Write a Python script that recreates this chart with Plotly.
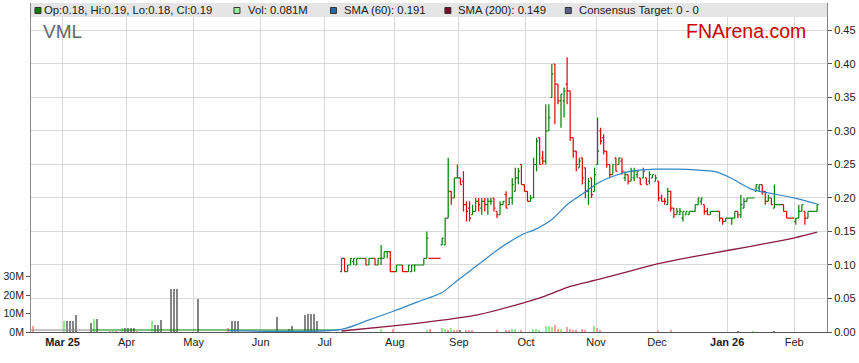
import pandas as pd
import plotly.graph_objects as go

# ---------------- data ----------------
price_start = "2025-07-08"   # first daily bar; bars run on consecutive weekdays
open_ = [
    .090,.110,.090,.100,.105,.100,.110,.110,.110,.100,
    .110,.110,.100,.110,.110,.120,.120,.090,.090,.100,
    .100,.090,.090,.090,.100,.100,.100,.100,.110,.110,
    .110,.110,.110,.130,.130,.170,.210,.200,.230,.230,
    .225,.190,.185,.175,.180,.195,.185,.195,.190,.195,
    .200,.180,.175,.190,.205,.190,.200,.210,.230,.250,
    .220,.210,.195,.200,.250,.290,.260,.255,.300,.350,
    .400,.370,.345,.345,.370,.360,.290,.270,.245,.260,
    .245,.210,.230,.210,.250,.300,.290,.270,.250,.235,
    .260,.250,.255,.230,.235,.225,.230,.235,.230,.230,
    .230,.225,.230,.225,.225,.200,.195,.190,.210,.185,
    .175,.175,.170,.175,.175,.180,.180,.190,.195,.190,
    .180,.175,.180,.180,.180,.170,.165,.170,.170,.170,
    .180,.175,.185,.195,.200,.200,.210,.215,.220,.210,
    .195,.200,.185,.190,.190,.190,.180,.170,.170,.165,
    .170,.180,.180,.170,.180,.180,.180]
high_ = [
    .110,.110,.100,.110,.110,.110,.110,.110,.110,.110,
    .110,.110,.110,.130,.120,.120,.120,.090,.100,.100,
    .100,.090,.100,.100,.100,.100,.100,.110,.150,.110,
    .110,.110,.110,.140,.170,.260,.210,.230,.250,.230,
    .240,.195,.195,.190,.200,.200,.200,.200,.200,.200,
    .200,.180,.195,.195,.210,.200,.230,.245,.245,.250,
    .220,.210,.205,.260,.290,.290,.270,.340,.340,.400,
    .400,.370,.355,.365,.410,.360,.290,.270,.260,.260,
    .245,.230,.230,.245,.320,.305,.295,.270,.250,.250,
    .260,.260,.260,.240,.235,.245,.245,.240,.230,.245,
    .230,.240,.235,.235,.225,.205,.200,.215,.210,.185,
    .185,.185,.180,.180,.180,.180,.190,.200,.200,.190,
    .185,.180,.180,.180,.180,.170,.170,.170,.170,.180,
    .180,.205,.200,.200,.200,.200,.220,.220,.220,.210,
    .205,.200,.220,.190,.190,.190,.180,.170,.170,.170,
    .190,.190,.180,.180,.180,.180,.190]
low_ = [
    .090,.090,.090,.100,.100,.100,.110,.110,.100,.100,
    .110,.100,.100,.100,.110,.110,.090,.090,.090,.100,
    .090,.090,.090,.090,.090,.100,.100,.100,.110,.110,
    .110,.110,.110,.130,.130,.170,.190,.200,.230,.220,
    .180,.165,.165,.175,.180,.180,.175,.180,.175,.190,
    .180,.170,.175,.190,.185,.190,.190,.210,.220,.220,
    .210,.195,.195,.200,.240,.250,.250,.250,.300,.350,
    .310,.340,.305,.320,.340,.285,.260,.240,.245,.220,
    .200,.190,.200,.210,.250,.280,.265,.245,.230,.235,
    .240,.250,.235,.225,.220,.225,.225,.230,.220,.230,
    .220,.220,.230,.225,.195,.195,.190,.190,.180,.170,
    .175,.175,.165,.175,.175,.180,.180,.190,.190,.175,
    .175,.175,.180,.180,.165,.160,.165,.170,.160,.170,
    .170,.170,.185,.195,.200,.200,.210,.210,.205,.190,
    .195,.190,.185,.190,.190,.180,.170,.170,.170,.160,
    .170,.180,.160,.170,.180,.180,.180]
close_ = [
    .110,.090,.100,.110,.110,.110,.110,.110,.100,.110,
    .110,.100,.110,.110,.120,.120,.090,.090,.100,.100,
    .090,.090,.100,.100,.100,.100,.100,.110,.140,.110,
    .110,.110,.110,.140,.170,.210,.200,.230,.230,.220,
    .190,.180,.170,.180,.195,.190,.195,.190,.195,.195,
    .185,.175,.190,.195,.185,.200,.220,.230,.240,.220,
    .210,.195,.200,.250,.285,.250,.255,.300,.320,.385,
    .370,.345,.355,.360,.360,.290,.270,.250,.255,.230,
    .210,.225,.205,.235,.270,.285,.270,.250,.235,.250,
    .240,.260,.240,.235,.225,.240,.240,.240,.220,.240,
    .220,.235,.235,.230,.200,.195,.195,.210,.185,.175,
    .180,.180,.180,.180,.180,.180,.190,.200,.200,.180,
    .175,.180,.180,.180,.170,.165,.170,.170,.170,.180,
    .175,.190,.195,.200,.200,.200,.220,.220,.210,.195,
    .200,.190,.190,.190,.190,.180,.170,.170,.170,.170,
    .180,.190,.170,.180,.180,.180,.190]

# near-zero trading before the July re-listing
early_dates = ["2025-02-14", "2025-03-14", "2025-07-07"]
early_price = [0.003, 0.003, 0.003]

sma60_dates = ["2025-05-16", "2025-07-08", "2025-07-21", "2025-07-31", "2025-08-12",
               "2025-08-22", "2025-08-29", "2025-09-09", "2025-09-17", "2025-09-24",
               "2025-09-30", "2025-10-03", "2025-10-13", "2025-10-20", "2025-10-27",
               "2025-11-03", "2025-11-11", "2025-11-18", "2025-11-28", "2025-12-09",
               "2025-12-17", "2025-12-26", "2026-01-02", "2026-01-12", "2026-01-16",
               "2026-01-22", "2026-02-02", "2026-02-11"]
sma60_vals = [0.002, 0.004, 0.018, 0.031, 0.045,
              0.059, 0.077, 0.101, 0.122, 0.137,
              0.147, 0.152, 0.168, 0.190, 0.206,
              0.222, 0.234, 0.240, 0.243, 0.243,
              0.242, 0.239, 0.229, 0.214, 0.209,
              0.206, 0.1995, 0.191]

sma200_dates = ["2025-07-08", "2025-07-31", "2025-08-22", "2025-09-09", "2025-09-30",
                "2025-10-09", "2025-10-21", "2025-11-03", "2025-11-17", "2025-12-01",
                "2025-12-16", "2026-01-01", "2026-01-16", "2026-02-02", "2026-02-11"]
sma200_vals = [0.0015, 0.009, 0.0176, 0.026, 0.044,
               0.054, 0.068, 0.078, 0.090, 0.102,
               0.112, 0.122, 0.131, 0.141, 0.149]

# volume in millions; kind: u = up day, d = down day, n = unchanged
vol_dates = ["2025-02-14", "2025-02-17", "2025-03-03", "2025-03-04", "2025-03-05", "2025-03-06",
             "2025-03-07", "2025-03-14", "2025-03-17", "2025-03-18", "2025-03-24", "2025-03-25",
             "2025-03-26", "2025-03-28", "2025-03-31", "2025-04-01", "2025-04-02", "2025-04-03",
             "2025-04-04", "2025-04-11", "2025-04-14", "2025-04-15", "2025-04-16", "2025-04-21",
             "2025-04-22", "2025-04-23", "2025-05-02", "2025-05-16", "2025-05-19", "2025-05-20",
             "2025-05-21", "2025-06-09", "2025-06-13", "2025-06-16", "2025-06-20", "2025-06-23",
             "2025-06-24", "2025-06-25", "2025-06-26",
             "2025-07-25", "2025-07-31", "2025-08-15", "2025-08-18", "2025-08-22", "2025-08-25",
             "2025-08-26", "2025-08-27", "2025-08-28", "2025-08-29", "2025-09-01", "2025-09-03",
             "2025-09-04", "2025-09-05", "2025-09-17", "2025-09-22", "2025-09-23", "2025-09-24",
             "2025-09-25", "2025-09-29", "2025-10-03", "2025-10-06", "2025-10-07", "2025-10-09",
             "2025-10-10", "2025-10-13", "2025-10-14", "2025-10-15", "2025-10-16", "2025-10-20",
             "2025-10-21", "2025-10-22", "2025-10-23", "2025-10-27", "2025-10-28", "2025-10-31",
             "2025-11-03", "2025-11-04", "2025-12-01", "2025-12-05", "2026-01-06", "2026-01-13",
             "2026-01-22"]
vol_m = [8.5, 3, 6, 6, 6, 6,
         9, 5, 7, 7, 0.4, 0.4,
         0.4, 2, 2, 2, 2, 2,
         0.5, 6, 4, 4, 6.5, 23,
         23, 23, 18, 2, 6, 6,
         6, 8, 1.5, 3, 9, 10,
         10, 10, 6,
         1.5, 1.5, 1.0, 1.7, 2.0, 1.5,
         1.0, 2.2, 1.0, 1.0, 0.7, 1.0,
         1.0, 0.8, 1.0, 1.0, 1.2, 1.5,
         1.5, 1.0, 1.5, 1.5, 1.0, 3.0,
         3.0, 2.5, 4.0, 1.5, 1.5, 2.5,
         1.5, 1.0, 1.0, 1.5, 1.0, 3.5,
         2.0, 1.0, 1.0, 1.0, 0.5, 0.5,
         0.5]
vol_kind = ["n", "d", "u", "n", "n", "n",
            "n", "n", "u", "n", "d", "u",
            "d", "u", "n", "n", "n", "n",
            "d", "u", "n", "n", "n", "n",
            "n", "n", "n", "d", "n", "n",
            "n", "n", "n", "n", "n", "n",
            "n", "n", "n",
            "u", "d", "u", "d", "u", "u",
            "d", "u", "d", "d", "n", "d",
            "d", "d", "d", "d", "d", "u",
            "u", "d", "u", "u", "u", "u",
            "u", "u", "d", "d", "u", "d",
            "d", "d", "d", "d", "d", "u",
            "d", "d", "d", "d", "n", "u",
            "n"]

month_ticks = ["2025-03-03", "2025-04-01", "2025-05-01", "2025-06-02", "2025-07-01", "2025-08-01",
               "2025-09-01", "2025-10-01", "2025-11-03", "2025-12-01", "2026-01-01", "2026-02-02"]
month_labels = ["<b>Mar 25</b>", "Apr", "May", "Jun", "Jul", "Aug",
                "Sep", "Oct", "Nov", "Dec", "<b>Jan 26</b>", "Feb"]
price_ticks = [0.00, 0.05, 0.10, 0.15, 0.20, 0.25, 0.30, 0.35, 0.40, 0.45]
vol_ticks_m = [0, 10, 20, 30]

# ---------------- figure ----------------
W, H = 859, 363
L, R, T, B = 31, 831, 3, 332
HALF_DAY = pd.Timedelta(hours=12)

price_x = pd.bdate_range(price_start, periods=len(close_)) + HALF_DAY
kind_color = {"u": "#90ee90", "d": "#ff9c9c", "n": "#858585"}

fig = go.Figure()

fig.add_trace(go.Bar(
    x=pd.to_datetime(vol_dates) + HALF_DAY, y=[v * 1e6 for v in vol_m],
    marker=dict(color=[kind_color[k] for k in vol_kind], line=dict(width=0)),
    width=0.48 * 86400000, yaxis="y", hoverinfo="skip", showlegend=False))

fig.add_trace(go.Scatter(
    x=pd.to_datetime(early_dates[:2]) + HALF_DAY, y=early_price[:2], mode="lines",
    line=dict(color="#888888", width=1.2), yaxis="y2", hoverinfo="skip", showlegend=False))
fig.add_trace(go.Scatter(
    x=pd.to_datetime(early_dates[1:]) + HALF_DAY, y=early_price[1:], mode="lines",
    line=dict(color="#008000", width=1.2), yaxis="y2", hoverinfo="skip", showlegend=False))

fig.add_trace(go.Scatter(
    x=pd.to_datetime(sma200_dates) + HALF_DAY, y=sma200_vals, mode="lines",
    line=dict(color="#8b1a3e", width=1.3, shape="spline", smoothing=0.6),
    yaxis="y2", hoverinfo="skip", showlegend=False))
fig.add_trace(go.Scatter(
    x=pd.to_datetime(sma60_dates) + HALF_DAY, y=sma60_vals, mode="lines",
    line=dict(color="#3286c4", width=1.2, shape="spline", smoothing=0.8),
    yaxis="y2", hoverinfo="skip", showlegend=False))

fig.add_trace(go.Ohlc(
    x=price_x, open=open_, high=high_, low=low_, close=close_,
    increasing=dict(line=dict(color="#008000", width=1.2)),
    decreasing=dict(line=dict(color="#e00000", width=1.2)),
    tickwidth=0.5, yaxis="y2", hoverinfo="skip", showlegend=False))


def px_x(p):
    return (p - L) / (R - L)


def px_y(p):
    return (B - p) / (B - T)


shapes = [dict(type="rect", xref="paper", yref="paper", x0=0, x1=1,
               y0=px_y(17), y1=1, fillcolor="#e5e5e5", line=dict(width=0), layer="above")]
legend_items = [
    (35, 42.5, "#0b7d0b", "Op:0.18, Hi:0.19, Lo:0.18, Cl:0.19"),
    (235, 246.7, "#98f098", "Vol: 0.081M"),
    (332, 343.3, "#1e6bb0", "SMA (60): 0.191"),
    (447, 458.3, "#7a0c2c", "SMA (200): 0.149"),
    (568, 580, "#5c5c8e", "Consensus Target: 0 - 0"),
]
annotations = []
for sq_x, tx, col, label in legend_items:
    shapes.append(dict(type="rect", xref="paper", yref="paper",
                       x0=px_x(sq_x), x1=px_x(sq_x + 6), y0=px_y(13.5), y1=px_y(7.5),
                       fillcolor=col, line=dict(color="#333333", width=1), layer="above"))
    annotations.append(dict(xref="paper", yref="paper", x=px_x(tx), y=px_y(10.3),
                            xanchor="left", yanchor="middle", showarrow=False, text=label,
                            font=dict(family="Liberation Sans, Arial", size=11.3, color="#1a1a1a")))

annotations.append(dict(xref="paper", yref="paper", x=px_x(41), y=px_y(32),
                        xanchor="left", yanchor="middle", showarrow=False, text="VML",
                        font=dict(family="Liberation Sans, Arial", size=19, color="#666666")))
annotations.append(dict(xref="paper", yref="paper", x=px_x(687), y=px_y(31),
                        xanchor="left", yanchor="middle", showarrow=False, text="FNArena.com",
                        font=dict(family="Liberation Sans, Arial", size=19.5, color="#cc0000")))

fig.update_layout(
    width=W, height=H, autosize=False,
    margin=dict(l=L, r=W - R, t=T, b=H - B, pad=0),
    paper_bgcolor="white", plot_bgcolor="white",
    font=dict(family="Liberation Sans, Arial", size=11, color="#222222"),
    showlegend=False, bargap=0,
    xaxis=dict(
        type="date",
        rangebreaks=[dict(bounds=["sat", "mon"])],
        range=["2025-02-14 15:36", "2026-02-16 18:00"],
        rangeslider=dict(visible=False),
        tickvals=month_ticks, ticktext=month_labels,
        showgrid=True, gridcolor="#d9d9d9", gridwidth=1,
        showline=True, linecolor="#555555", linewidth=1,
        ticks="", tickfont=dict(size=11, color="#222222"),
        zeroline=False, fixedrange=True),
    yaxis=dict(
        side="left", range=[0, 178e6],
        tickvals=[v * 1e6 for v in vol_ticks_m], ticktext=[f"{v}M" for v in vol_ticks_m],
        showgrid=False, zeroline=False,
        showline=True, linecolor="#888888", linewidth=1,
        ticks="outside", ticklen=4, tickcolor="#555555",
        tickfont=dict(size=10.5, color="#222222"), fixedrange=True),
    yaxis2=dict(
        overlaying="y", side="right", range=[0, 0.491],
        tickvals=price_ticks, ticktext=[f"{v:.2f}" for v in price_ticks],
        showgrid=True, gridcolor="#d9d9d9", gridwidth=1, zeroline=False,
        showline=True, linecolor="#888888", linewidth=1,
        ticks="outside", ticklen=4, tickcolor="#555555",
        tickfont=dict(size=11, color="#222222"), fixedrange=True),
    shapes=shapes, annotations=annotations,
)

fig.write_html("out.html", config={"displayModeBar": False},
               post_script="document.body.style.margin='0';document.body.style.overflow='hidden';")
